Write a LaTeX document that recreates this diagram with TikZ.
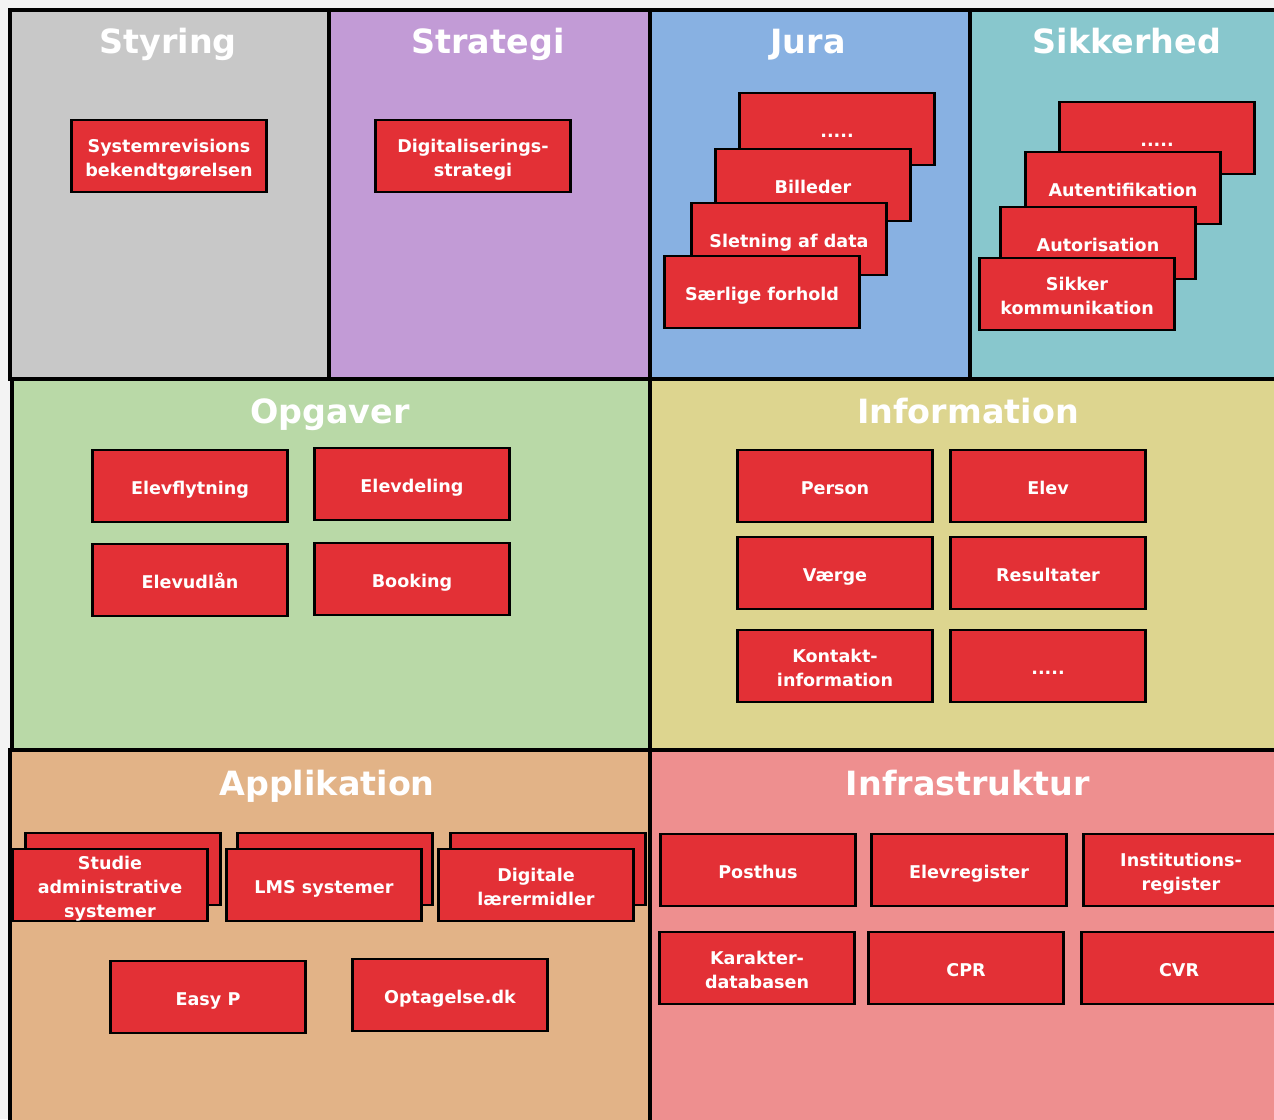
\documentclass[tikz,border=0pt]{standalone}
\usepackage{fontspec}
\setmainfont{DejaVu Sans}
\definecolor{bgGrey}{HTML}{F3F3F3}
\definecolor{colStyring}{HTML}{C8C8C8}
\definecolor{colStrategi}{HTML}{C29BD6}
\definecolor{colJura}{HTML}{88B1E2}
\definecolor{colSikkerhed}{HTML}{88C7CD}
\definecolor{colOpgaver}{HTML}{B9D9A7}
\definecolor{colInformation}{HTML}{DDD58F}
\definecolor{colApplikation}{HTML}{E2B387}
\definecolor{colInfrastruktur}{HTML}{EE8F8F}
\definecolor{boxRed}{HTML}{E33036}
\newcommand{\boxlines}[1]{\setbox0\hbox{\begin{tabular}{@{}c@{}}#1\end{tabular}}%
    \raisebox{0pt}[\dimexpr\ht0+1.9pt\relax][\dimexpr\dp0-1.9pt\relax]{\copy0}}
\tikzset{
    panel/.style={fill=#1, draw=black, line width=0.08cm},
    title/.style={text=white, anchor=base, font=\fontsize{19}{22}\selectfont\bfseries},
    item/.style={fill=boxRed, draw=black, line width=0.055cm,
        minimum width=3.9cm, minimum height=1.44cm, inner sep=0pt,
        text=white, font=\fontsize{10}{13.6}\selectfont\bfseries,
        execute at begin node=\rule{0pt}{14pt},
        execute at end node=\rule[-4.1pt]{0pt}{4.1pt}}
}

\begin{document}
\begin{tikzpicture}[x=0.02cm, y=-0.02cm]
    \useasboundingbox (0,0) rectangle (1274,1119);
    \fill[bgGrey] (0,0) rectangle (1274,1119);
    \clip (0,0) rectangle (1274,1119);
    % Panels
    \draw[panel=colStyring] (10,10) rectangle (329,379);
    \draw[panel=colStrategi] (329,10) rectangle (650,379);
    \draw[panel=colJura] (650,10) rectangle (970,379);
    \draw[panel=colSikkerhed] (970,10) rectangle (1300,379);
    \draw[panel=colOpgaver] (12,379) rectangle (650,750);
    \draw[panel=colInformation] (650,379) rectangle (1300,750);
    \draw[panel=colApplikation] (10,750) rectangle (650,1140);
    \draw[panel=colInfrastruktur] (650,750) rectangle (1300,1140);
    % Titles
    \node[title] (tStyring) at (168,53) {Styring};
    \node[title] (tStrategi) at (488,53) {Strategi};
    \node[title] (tJura) at (808,53) {Jura};
    \node[title] (tSikkerhed) at (1127,53) {Sikkerhed};
    \node[title] (tOpgaver) at (330,423) {Opgaver};
    \node[title] (tInformation) at (968,423) {Information};
    \node[title] (tApplikation) at (327,795) {Applikation};
    \node[title] (tInfrastruktur) at (968,795) {Infrastruktur};
    % Styring and Strategi
    \node[item] (styRev) at (169,156) {\boxlines{Systemrevisions\\bekendtgørelsen}};
    \node[item] (strDig) at (473,156) {\boxlines{Digitaliserings-\\strategi}};
    % Jura stack
    \node[item] (jurDots) at (837,129) {.....};
    \node[item] (jurBil) at (813,185) {Billeder};
    \node[item] (jurSlet) at (789,239) {Sletning af data};
    \node[item] (jurSaer) at (762,292) {Særlige forhold};
    % Sikkerhed stack
    \node[item] (sikDots) at (1157,138) {.....};
    \node[item] (sikAut) at (1123,188) {Autentifikation};
    \node[item] (sikAuto) at (1098,243) {Autorisation};
    \node[item] (sikKom) at (1077,294) {\boxlines{Sikker\\kommunikation}};
    % Opgaver
    \node[item] (opgFly) at (190,486) {Elevflytning};
    \node[item] (opgDel) at (412,484) {Elevdeling};
    \node[item] (opgUdl) at (190,580) {Elevudlån};
    \node[item] (opgBoo) at (412,579) {Booking};
    % Information
    \node[item] (infPer) at (835,486) {Person};
    \node[item] (infElev) at (1048,486) {Elev};
    \node[item] (infVae) at (835,573) {Værge};
    \node[item] (infRes) at (1048,573) {Resultater};
    \node[item] (infKon) at (835,666) {\boxlines{Kontakt-\\information}};
    \node[item] (infDots) at (1048,666) {.....};
    % Applikation, stacked pairs
    \foreach \bx in {123, 335, 548}
        \node[item] at (\bx,869) {};
    \node[item] (appSA) at (110,885) {\boxlines{Studie\\administrative\\systemer}};
    \node[item] (appLMS) at (324,885) {LMS systemer};
    \node[item] (appDig) at (536,885) {\boxlines{Digitale\\lærermidler}};
    \node[item] (appEasy) at (208,997) {Easy P};
    \node[item] (appOpt) at (450,995) {Optagelse.dk};
    % Infrastruktur
    \node[item] (infrPost) at (758,870) {Posthus};
    \node[item] (infrElev) at (969,870) {Elevregister};
    \node[item] (infrInst) at (1181,870) {\boxlines{Institutions-\\register}};
    \node[item] (infrKar) at (757,968) {\boxlines{Karakter-\\databasen}};
    \node[item] (infrCPR) at (966,968) {CPR};
    \node[item] (infrCVR) at (1179,968) {CVR};
\end{tikzpicture}
\end{document}
